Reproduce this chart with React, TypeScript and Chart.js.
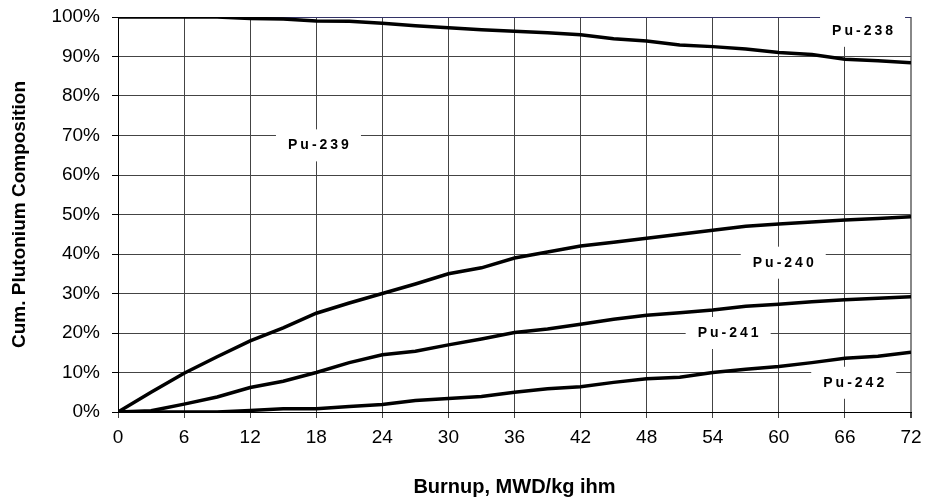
import React, { useEffect, useRef } from "react";
import { Chart, registerables } from "chart.js";

Chart.register(...registerables);

const burnup = [0, 3, 6, 9, 12, 15, 18, 21, 24, 27, 30, 33, 36, 39, 42, 45, 48, 51, 54, 57, 60, 63, 66, 69, 72];
// cumulative boundaries (%)
const pu238Line = [100, 100, 100, 100, 99.6, 99.5, 99.0, 98.9, 98.4, 97.8, 97.3, 96.8, 96.4, 96.0, 95.5, 94.5, 93.9, 92.9, 92.5, 91.9, 91.0, 90.5, 89.3, 88.9, 88.4];
const pu239Line = [0, 5, 9.8, 14, 18, 21.3, 25, 27.6, 30, 32.4, 35, 36.5, 39, 40.5, 42, 43, 44, 45, 46, 47, 47.6, 48.1, 48.6, 49, 49.4];
const pu240Line = [0, 0.3, 2, 3.8, 6.2, 7.8, 10, 12.5, 14.5, 15.4, 17, 18.5, 20.1, 21, 22.2, 23.5, 24.5, 25.1, 25.8, 26.8, 27.3, 27.9, 28.4, 28.8, 29.2];
const pu241Line = [0, 0, 0, 0, 0.4, 0.8, 0.8, 1.4, 1.9, 2.9, 3.4, 3.9, 5, 5.9, 6.4, 7.5, 8.4, 8.8, 10, 10.8, 11.5, 12.5, 13.6, 14.1, 15.1];

const labelTexts = ["Pu-238", "Pu-239", "Pu-240", "Pu-241", "Pu-242"];
const labelX = [67.6, 18.2, 60.4, 55.4, 66.8];
const labelY = [96.5, 67.5, 37.8, 20, 7.4];

const FONT = "'Liberation Sans', Arial, sans-serif";

const labelPlugin = {
  id: "isotopeLabels",
  afterDatasetsDraw(chart: any) {
    const { ctx, scales } = chart;
    ctx.save();
    labelTexts.forEach((t, i) => {
      const px = scales.x.getPixelForValue(labelX[i]);
      const py = scales.y.getPixelForValue(labelY[i]);
      const w = 85;
      const h = 32;
      ctx.fillStyle = "#ffffff";
      ctx.fillRect(px - w / 2, py - h / 2, w, h);
      ctx.fillStyle = "#000000";
      ctx.font = `bold 14px ${FONT}`;
      (ctx as any).letterSpacing = "3px";
      ctx.textAlign = "center";
      ctx.textBaseline = "middle";
      ctx.fillText(t, px + 1.5, py);
    });
    ctx.restore();
  },
};

function mk(data: number[]) {
  return data.map((v, i) => ({ x: burnup[i], y: v }));
}

export default function App() {
  const ref = useRef<HTMLCanvasElement>(null);
  useEffect(() => {
    if (!ref.current) return;
    const ds = [pu238Line, pu239Line, pu240Line, pu241Line].map((d) => ({
      data: mk(d),
      borderColor: "#000000",
      borderWidth: 3.5,
      pointRadius: 0,
      fill: false,
      tension: 0,
    }));
    const chart = new Chart(ref.current, {
      type: "line",
      data: { datasets: ds },
      options: {
        animation: false,
        responsive: true,
        maintainAspectRatio: false,
        layout: { padding: { top: 17, right: 16, left: 0, bottom: 0 } },
        plugins: { legend: { display: false }, tooltip: { enabled: false } },
        scales: {
          x: {
            type: "linear",
            min: 0,
            max: 72,
            ticks: { stepSize: 6, color: "#000", font: { family: FONT, size: 19 }, padding: 8, maxRotation: 0 },
            grid: {
              color: (c: any) => (c.tick && c.tick.value === 72 ? "#888888" : "#444444"),
              lineWidth: (c: any) => (c.tick && c.tick.value === 72 ? 2 : 1),
              tickLength: 6,
              tickColor: "#444444",
            },
            border: { color: "#000", width: 1 },
            title: {
              display: true,
              text: "Burnup, MWD/kg ihm",
              color: "#000",
              font: { family: FONT, size: 20, weight: "bold" },
              padding: { top: 0, bottom: 1 },
            },
            afterFit: (s: any) => {
              s.height = 88;
              s.paddingLeft = 0;
              s.paddingRight = 0;
            },
          },
          y: {
            min: 0,
            max: 100,
            ticks: {
              stepSize: 5,
              color: "#000",
              font: { family: FONT, size: 19 },
              padding: 12,
              callback: (v: any) => (Number(v) % 10 === 0 ? v + "%" : ""),
            },
            grid: {
              color: (c: any) => (c.tick && c.tick.value === 100 ? "#333366" : "#444444"),
              tickLength: 6,
              tickColor: (c: any) => (c.tick && c.tick.value % 10 === 0 ? "#000" : "rgba(0,0,0,0)"),
            },
            border: { color: "#000", width: 1 },
            title: {
              display: true,
              text: "Cum. Plutonium Composition",
              color: "#000",
              font: { family: FONT, size: 19, weight: "bold" },
              padding: { top: 8, bottom: 0 },
            },
            afterFit: (s: any) => {
              s.width = 118;
              s.paddingTop = 0;
              s.paddingBottom = 0;
            },
          },
        },
      },
      plugins: [labelPlugin],
    });
    return () => chart.destroy();
  }, []);
  return (
    <div style={{ position: "fixed", left: 0, top: 0, width: 927, height: 500, background: "#fff" }}>
      <canvas ref={ref} />
    </div>
  );
}
